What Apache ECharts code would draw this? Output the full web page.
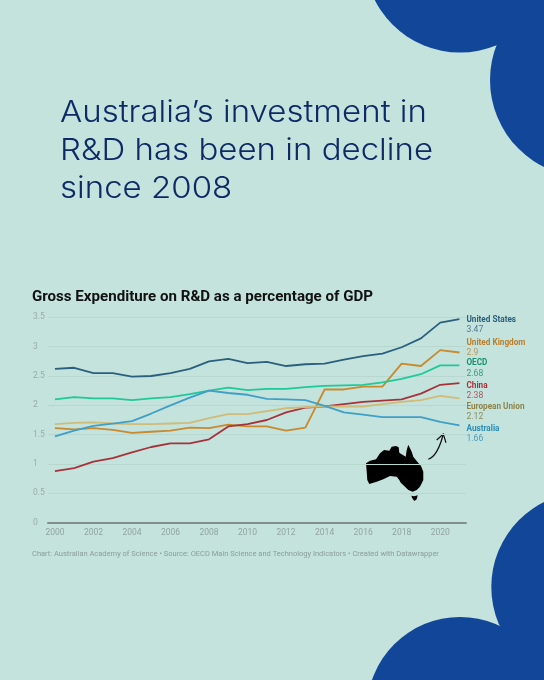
<!DOCTYPE html>
<html>
<head>
<meta charset="utf-8">
<script src="https://cdn.jsdelivr.net/npm/echarts@6/dist/echarts.min.js"></script>
<style>
html, body { margin: 0; padding: 0; background: #c3e3dc; }
#chart { width: 544px; height: 680px; }
</style>
</head>
<body>
<div id="chart"></div>
<script>
const years = [2000, 2001, 2002, 2003, 2004, 2005, 2006, 2007, 2008, 2009, 2010, 2011, 2012, 2013, 2014, 2015, 2016, 2017, 2018, 2019, 2020, 2021];
const unitedStates = [2.62, 2.64, 2.55, 2.55, 2.49, 2.50, 2.55, 2.62, 2.75, 2.79, 2.72, 2.74, 2.67, 2.70, 2.71, 2.78, 2.84, 2.88, 2.99, 3.14, 3.41, 3.47];
const unitedKingdom = [1.61, 1.59, 1.61, 1.58, 1.53, 1.55, 1.57, 1.62, 1.61, 1.67, 1.64, 1.64, 1.57, 1.62, 2.27, 2.27, 2.32, 2.32, 2.71, 2.67, 2.94, 2.90];
const oecd = [2.10, 2.14, 2.12, 2.12, 2.09, 2.12, 2.14, 2.19, 2.25, 2.30, 2.26, 2.28, 2.28, 2.31, 2.33, 2.34, 2.35, 2.39, 2.45, 2.53, 2.68, 2.68];
const china = [0.88, 0.93, 1.04, 1.10, 1.20, 1.29, 1.35, 1.35, 1.42, 1.64, 1.68, 1.75, 1.88, 1.96, 1.98, 2.02, 2.06, 2.08, 2.10, 2.20, 2.35, 2.38];
const europeanUnion = [1.68, 1.70, 1.71, 1.69, 1.68, 1.68, 1.69, 1.70, 1.78, 1.85, 1.85, 1.90, 1.95, 1.97, 1.98, 1.98, 1.98, 2.02, 2.06, 2.09, 2.16, 2.12];
const australia = [1.47, 1.57, 1.65, 1.69, 1.73, 1.86, 2.00, 2.13, 2.25, 2.21, 2.18, 2.11, 2.10, 2.09, 1.99, 1.88, 1.84, 1.80, 1.80, 1.80, 1.72, 1.66];
const xTicks = [2000, 2002, 2004, 2006, 2008, 2010, 2012, 2014, 2016, 2018, 2020];

const seriesList = [
    { name: 'United States', data: unitedStates, endText: '3.47', color: '#2b5f7e', nameColor: '#2b5f7e', valueColor: '#4d7a94', shift: 6 },
    { name: 'United Kingdom', data: unitedKingdom, endText: '2.9', color: '#c88a2e', nameColor: '#b97f2c', valueColor: '#c09550', shift: -5 },
    { name: 'OECD', data: oecd, endText: '2.68', color: '#1fc99a', nameColor: '#17906f', valueColor: '#3b9d83', shift: 3 },
    { name: 'China', data: china, endText: '2.38', color: '#a8323c', nameColor: '#a8323c', valueColor: '#b5555d', shift: 8 },
    { name: 'European Union', data: europeanUnion, endText: '2.12', color: '#d0bb78', nameColor: '#8f8449', valueColor: '#8f8a5c', shift: 13.5 },
    { name: 'Australia', data: australia, endText: '1.66', color: '#3f9fc6', nameColor: '#2d8db5', valueColor: '#4a9cbf', shift: 8.5 }
];

const chart = echarts.init(document.getElementById('chart'));

const series = seriesList.map((s) => ({
    name: s.name,
    type: 'line',
    data: years.map((y, i) => [y, s.data[i]]),
    showSymbol: false,
    silent: true,
    lineStyle: { color: s.color, width: 1.8 },
    endLabel: {
        show: true,
        distance: 7,
        offset: [0, s.shift],
        align: 'left',
        formatter: () => `{n|${s.name}}\n{v|${s.endText}}`,
        rich: {
            n: { fontFamily: 'Roboto', fontSize: 8.2, fontWeight: 'bold', color: s.nameColor, lineHeight: 10 },
            v: { fontFamily: 'Roboto', fontSize: 8.6, color: s.valueColor, lineHeight: 10 }
        }
    }
}));

// australia outline and arrow are decoration, not data
const mapOutline = [
    [366, 463.3], [370, 460.7], [376, 459.3], [380, 453.3], [384, 450], [389.3, 450.7], [391.7, 446.7], [396, 446],
    [398.7, 447.3], [399.3, 452.7], [403.3, 455.3], [405.7, 456.7], [406.7, 450], [408.3, 444.7], [410, 448.3],
    [411.7, 451.7], [413.3, 456.7], [417.3, 461.7], [421, 466], [423.3, 471.7], [423.3, 480], [420, 486.7],
    [416.7, 490], [412.7, 491.7], [408.3, 490], [405, 486.7], [400.7, 482.7], [399.3, 480], [396.7, 476.7],
    [390, 476], [383.3, 479.3], [376.7, 481.7], [369.3, 484], [367.3, 480], [366.7, 471.7]
];
const tasmania = [[411.3, 495.7], [414.3, 496.3], [417.7, 495.3], [416.7, 499.3], [414.3, 501], [412.3, 498.3]];

const titleFont = '300 30px Inter';

chart.setOption({
    animation: false,
    backgroundColor: '#c3e3dc',
    grid: { left: 48, right: 78, top: 317.3, height: 205.4 },
    xAxis: {
        type: 'value',
        min: 1999.64,
        max: 2021.34,
        splitLine: { show: false },
        axisTick: { show: false },
        axisLine: { show: true, lineStyle: { color: '#7f8f8c', width: 2 } },
        axisLabel: {
            customValues: xTicks,
            formatter: (v) => String(v),
            fontFamily: 'Roboto',
            fontSize: 8.5,
            color: '#93a3a0',
            margin: 6
        }
    },
    yAxis: {
        type: 'value',
        min: 0,
        max: 3.5,
        interval: 0.5,
        axisLine: { show: false },
        axisTick: { show: false },
        splitLine: { show: true, lineStyle: { color: '#b7d7cf', width: 1 } },
        axisLabel: {
            align: 'left',
            margin: 15,
            fontFamily: 'Roboto',
            fontSize: 8.5,
            color: '#9aaba7'
        }
    },
    series: series,
    graphic: [
        { type: 'circle', shape: { cx: 460, cy: -43, r: 95.5 }, style: { fill: '#124699' } },
        { type: 'circle', shape: { cx: 587, cy: 80, r: 97 }, style: { fill: '#124699' } },
        { type: 'circle', shape: { cx: 460, cy: 710, r: 93 }, style: { fill: '#124699' } },
        { type: 'circle', shape: { cx: 586, cy: 587, r: 94.7 }, style: { fill: '#124699' } },
        { type: 'text', x: 60, y: 98, scaleX: 1.1, style: { text: 'Australia’s investment in', font: titleFont, fill: '#0e2a66' } },
        { type: 'text', x: 60, y: 136, scaleX: 1.1, style: { text: 'R&D has been in decline', font: titleFont, fill: '#0e2a66' } },
        { type: 'text', x: 60, y: 174, scaleX: 1.1, style: { text: 'since 2008', font: titleFont, fill: '#0e2a66' } },
        { type: 'text', left: 32, top: 290, style: { text: 'Gross Expenditure on R&D as a percentage of GDP', font: 'bold 15.1px Roboto', fill: '#111111' } },
        { type: 'text', left: 32, top: 550.5, style: { text: 'Chart: Australian Academy of Science • Source: OECD Main Science and Technology Indicators • Created with Datawrapper', font: '7.5px Roboto', fill: '#8c9c99' } },
        { type: 'polygon', shape: { points: mapOutline }, style: { fill: '#000000' } },
        { type: 'polygon', shape: { points: tasmania }, style: { fill: '#000000' } },
        { type: 'bezierCurve', shape: { x1: 428.3, y1: 459.3, cpx1: 435, cpy1: 457, x2: 443.3, y2: 434, cpx2: 440, cpy2: 447 }, style: { fill: 'none', stroke: '#111111', lineWidth: 1.2 } },
        { type: 'polyline', shape: { points: [[436.7, 440], [443.3, 434], [446, 442.7]] }, style: { fill: 'none', stroke: '#111111', lineWidth: 1.2 } }
    ]
});
</script>
</body>
</html>
